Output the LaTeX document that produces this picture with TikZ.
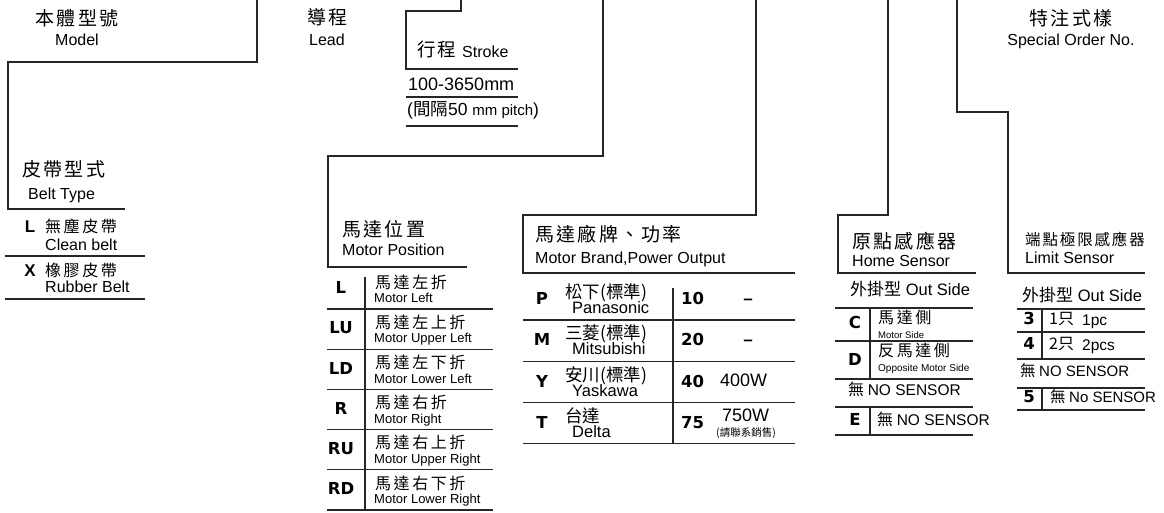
\documentclass[tikz,border=0pt]{standalone}
\usepackage{fontspec}
\setmainfont{Liberation Sans}
\newfontfamily\cjkh{Noto Sans CJK TC}[LetterSpace=12]
\newfontfamily\cjke{Noto Sans CJK TC}[LetterSpace=16]
\newfontfamily\cjkn{Noto Sans CJK TC}
\newfontfamily\lblf{DejaVu Sans}[BoldFont={DejaVu Sans Bold}]
\newcommand\FSz[1]{\fontsize{#1}{#1}\selectfont}
\tikzset{
  txt/.style={inner sep=0pt, text height=0.72em, text depth=0pt, anchor=west, text=black},
  txc/.style={txt, anchor=center},
  hdc/.style={txt, font=\cjkh\FSz{19}},
  sub/.style={txt, font=\FSz{16}},
  ent/.style={txt, font=\cjke\FSz{16}},
  ens/.style={txt, font=\FSz{13}},
  lab/.style={txc, font=\lblf\bfseries\FSz{16.5}},
  labh/.style={txc, font=\bfseries\FSz{17}},
  ln/.style={line width=1.1pt, draw=black!85},
}
\begin{document}
\begin{tikzpicture}[x=1pt,y=-1pt]
\useasboundingbox (0,0) rectangle (1164,512);

% ---------- Model ----------
\node[hdc, anchor=center] (modelzh) at (77,22) {本體型號};
\node[sub, anchor=center] (modelen) at (77,42) {Model};
\draw[ln] (257,0) -- (257,62) -- (8,62) -- (8,209) -- (125,209);

% ---------- Belt type ----------
\node[hdc] (beltzh) at (22,173) {皮帶型式};
\node[sub] (belten) at (28,196) {Belt Type};
\node[labh] (bL) at (30,229) {L};
\node[ent] (bLzh) at (45,229) {無塵皮帶};
\node[sub] (bLen) at (45,247) {Clean belt};
\draw[ln] (5,256) -- (145,256);
\node[labh] (bX) at (30,273) {X};
\node[ent] (bXzh) at (45,273) {橡膠皮帶};
\node[sub] (bXen) at (45,289) {Rubber Belt};
\draw[ln] (5,299) -- (145,299);

% ---------- Lead ----------
\node[hdc] (leadzh) at (307,21) {導程};
\node[sub] (leaden) at (309,42) {Lead};

% ---------- Stroke ----------
\draw[ln] (461,0) -- (461,11) -- (406,11) -- (406,69) -- (518,69);
\node[txt, font=\cjkh\FSz{18.5}] (strokezh) at (417,53) {行程};
\node[txt, font=\FSz{16}] (strokeen) at (462,54) {Stroke};
\node[txt, font=\FSz{18}] (range) at (408,87) {100-3650mm};
\draw[ln] (406,97) -- (518,97);
\node[txt, font=\FSz{17.5}] (pitch) at (407,112) {({\cjkn 間隔}50 {\FSz{15}mm pitch})};
\draw[ln] (406,126) -- (518,126);

% ---------- Motor position ----------
\draw[ln] (603,0) -- (603,156) -- (328,156) -- (328,267) -- (467,267);
\node[hdc] (mpzh) at (342,233) {馬達位置};
\node[sub] (mpen) at (342,252) {Motor Position};
\draw[ln] (365,277) -- (365,510);
\foreach \lab/\zh/\en [count=\i from 0] in {L/馬達左折/Motor Left, LU/馬達左上折/Motor Upper Left, LD/馬達左下折/Motor Lower Left, R/馬達右折/Motor Right, RU/馬達右上折/Motor Upper Right, RD/馬達右下折/Motor Lower Right}{
  \pgfmathsetmacro\ly{309+40.2*\i}
  \node[lab] (mpl\i) at (341,\ly-19) {\lab};
  \node[ent] (mpz\i) at (375,\ly-24.5) {\zh};
  \node[ens] (mpe\i) at (374,\ly-10) {\en};
  \draw[ln] (327,\ly) -- (493,\ly);
}

% ---------- Motor brand / power ----------
\draw[ln] (756,0) -- (756,215) -- (523,215) -- (523,273) -- (795,273);
\node[hdc] (mbzh) at (535,238) {馬達廠牌、功率};
\node[sub] (mben) at (535,260) {Motor Brand,Power Output};
\draw[ln] (673,288) -- (673,444);
\foreach \lab/\zh/\en/\num [count=\i from 0] in {P/松下(標準)/Panasonic/10, M/三菱(標準)/Mitsubishi/20, Y/安川(標準)/Yaskawa/40, T/台達/Delta/75}{
  \pgfmathsetmacro\ly{320+41.3*\i}
  \node[lab] (mbl\i) at (542,\ly-19) {\lab};
  \node[txt, font=\cjkn\FSz{17.5}] (mbz\i) at (565,\ly-25) {\zh};
  \node[txt, font=\FSz{16.5}] (mbe\i) at (572,\ly-10) {\en};
  \node[lab, anchor=west] (mbn\i) at (681,\ly-19) {\num};
  \draw[ln] (523,\ly) -- (795,\ly);
}
\node[txc, font=\bfseries\FSz{17}] (pw0) at (748,301) {–};
\node[txc, font=\bfseries\FSz{17}] (pw1) at (748,342) {–};
\node[txt, font=\FSz{18}] (pw2) at (720,383) {400W};
\node[txt, font=\FSz{18}] (pw3) at (722,418) {750W};
\node[txc, font=\cjkn\FSz{10.5}] (pw3s) at (746,433) {(請聯系銷售)};

% ---------- Home sensor ----------
\draw[ln] (888,0) -- (888,215) -- (838,215) -- (838,273) -- (976,273);
\node[hdc] (hszh) at (852,245) {原點感應器};
\node[sub] (hsen) at (852,263) {Home Sensor};
\node[txt, font=\cjkn\FSz{17}] (hsout) at (850,292) {外掛型{\rmfamily\FSz{16.5} Out Side}};
\foreach \ly in {308,341,379,407,435}{\draw[ln] (835,\ly) -- (973,\ly);}
\draw[ln] (870,308) -- (870,379);
\draw[ln] (870,407) -- (870,435);
\node[lab] (hsC) at (855,325) {C};
\node[ent] (hsCz) at (878,320) {馬達側};
\node[txt, font=\FSz{9.5}] (hsCe) at (878,335) {Motor Side};
\node[lab] (hsD) at (855,362) {D};
\node[ent] (hsDz) at (878,353) {反馬達側};
\node[txt, font=\FSz{10}] (hsDe) at (878,368) {Opposite Motor Side};
\node[txt, font=\cjkn\FSz{16}] (hsN) at (848,392) {無 {\rmfamily\FSz{15.5}NO SENSOR}};
\node[lab] (hsE) at (855,422) {E};
\node[txt, font=\cjkn\FSz{16}] (hsEz) at (877,422) {無 {\rmfamily\FSz{15.5}NO SENSOR}};

% ---------- Limit sensor ----------
\draw[ln] (957,0) -- (957,112) -- (1008,112) -- (1008,273) -- (1145,273);
\node[txt, font=\cjkh\FSz{15.5}] (lszh) at (1025,242) {端點極限感應器};
\node[sub] (lsen) at (1025,260) {Limit Sensor};
\node[txt, font=\cjkn\FSz{17}] (lsout) at (1022,298) {外掛型{\rmfamily\FSz{16.5} Out Side}};
\foreach \ly in {309,332,359,388,410}{\draw[ln] (1017,\ly) -- (1145,\ly);}
\draw[ln] (1042,309) -- (1042,359);
\draw[ln] (1042,388) -- (1042,410);
\node[lab] (ls3) at (1029,321) {3};
\node[txt, font=\cjkn\FSz{16}] (ls3t) at (1049,321) {1只};
\node[txt, font=\FSz{15.5}] (ls3e) at (1082,322) {1pc};
\node[lab] (ls4) at (1029,346) {4};
\node[txt, font=\cjkn\FSz{16}] (ls4t) at (1049,346) {2只};
\node[txt, font=\FSz{15.5}] (ls4e) at (1082,347) {2pcs};
\node[txt, font=\cjkn\FSz{15.5}] (lsN) at (1020,373) {無 {\rmfamily\FSz{15}NO SENSOR}};
\node[lab] (ls5) at (1029,399) {5};
\node[txt, font=\cjkn\FSz{15.5}] (ls5t) at (1050,399) {無 {\rmfamily\FSz{15}No SENSOR}};

% ---------- Special order ----------
\node[hdc, anchor=center] (spzh) at (1071,22) {特注式樣};
\node[sub, anchor=center] (spen) at (1071,42) {Special Order No.};
\end{tikzpicture}
\end{document}
